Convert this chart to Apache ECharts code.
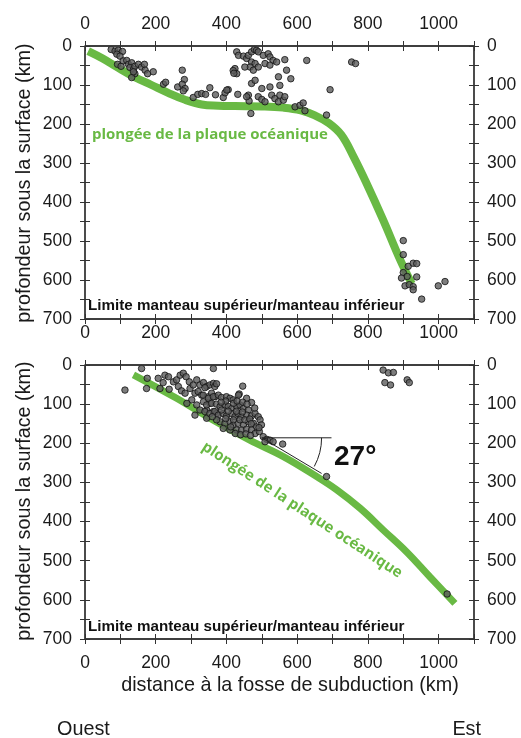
<!DOCTYPE html>
<html>
<head>
<meta charset="utf-8">
<script src="https://cdn.jsdelivr.net/npm/echarts@6/dist/echarts.min.js"></script>
<style>html,body{margin:0;padding:0;background:#fff}#c{width:521px;height:738px}</style>
</head>
<body>
<div id="c"></div>
<script>
// ---- data ----
const xTickLabels = [0, 200, 400, 600, 800, 1000];
const yTickLabels = [0, 100, 200, 300, 400, 500, 600, 700];
const xExtent = [0, 1100];
const yExtent = [0, 700];

const slabTop = [[9,13],[50,32],[94,56],[141,80],[188,100],[235,120],[283,138],[330,150],[377,153],[424,154],[500,155],[560,158],[610,165],[650,178],[690,198],[725,228],[760,285],[796,352],[843,446],[891,548],[924,610]];

const quakesTop = [[74,9],[85,13],[94,11],[106,14],[90,21],[99,26],[92,47],[102,52],[108,38],[118,37],[123,47],[132,43],[127,55],[137,60],[141,52],[151,47],[160,54],[168,47],[170,62],[177,71],[141,71],[132,81],[137,66],[193,66],[222,98],[228,93],[275,62],[281,86],[262,105],[275,98],[283,109],[278,115],[306,132],[319,124],[330,122],[341,124],[353,107],[369,125],[391,132],[396,120],[405,112],
[429,15],[434,24],[424,58],[429,71],[448,26],[457,32],[462,24],[471,15],[479,9],[485,11],[490,15],[471,41],[481,45],[467,54],[476,62],[490,54],[452,54],[504,24],[518,20],[523,28],[532,37],[542,41],[509,45],[523,49],[565,35],[570,62],[547,79],[582,84],[627,37],[754,41],[765,45],[471,96],[481,88],[500,109],[523,105],[551,101],[401,113],[432,124],[462,126],[464,141],[490,130],[500,137],[509,143],[528,126],[537,135],[547,143],[551,126],[561,139],[565,130],[594,156],[608,152],[617,146],[622,166],[469,173],[693,112],[683,177],[419,63],[421,70],[457,130],
[900,499],[900,535],[914,565],[928,557],[938,558],[900,581],[911,591],[905,615],[917,612],[928,617],[938,592],[928,625],[952,649],[999,615],[1018,604],[895,595]];

const slabBottom = [[137,25],[259,85],[353,136],[466,192],[561,234],[655,285],[712,319],[778,366],[844,422],[909,477],[975,541],[1046,609]];

const quakesBottom = [[160,9],[113,64],[176,34],[174,60],[207,34],[212,60],[226,26],[236,30],[221,45],[238,62],[250,43],[259,38],[269,26],[278,21],[286,30],[295,43],[264,55],[273,66],[283,72],[297,60],[306,51],[316,38],[325,51],[335,45],[344,55],[353,51],[363,47],[311,72],[320,68],[330,77],[302,89],[288,98],[316,102],[335,94],[349,81],[358,72],[368,81],[353,98],[325,115],[344,115],[363,119],[311,128],[344,136],[372,124],[363,9],
[339,58],[367,55],[372,48],[446,54],[436,74],[457,85],[471,96],[334,77],[349,85],[363,81],[377,77],[386,83],[400,81],[410,85],[419,89],[344,102],[358,98],[372,100],[382,106],[396,102],[405,106],[415,111],[429,106],[438,102],[448,111],[462,115],[339,119],[353,124],[367,119],[377,128],[391,124],[400,130],[415,124],[424,132],[433,124],[443,132],[457,128],[471,130],[481,124],[490,132],[495,140],[382,145],[396,149],[410,145],[419,153],[433,149],[448,153],[462,145],[476,149],[485,158],[499,153],[391,162],[410,166],[429,166],[443,166],[457,164],[471,166],[481,175],[493,170],[504,183],[514,190],[523,192],[532,196],[559,202],[509,196],[434,77],[683,285],[1024,585],
[405,118],[420,140],[438,140],[452,140],[398,137],[428,118],[445,120],[466,138],[412,158],[425,175],[440,178],[455,176],[468,180],[386,115],[398,92],[385,95],[420,98],[430,92],[446,95],[458,100],[480,110],[470,150],[492,160],[372,140],[360,132],
[843,13],[858,20],[872,19],[848,45],[864,51],[911,38],[917,45]];

const angleHoriz = [[500,186],[697,186]];
const angleSlant = [[500,186],[669,277]];
const angleArcRadiusKm = 169;

// ---- chart ----
const GREEN = '#69b944';
const AX = '#333';
const TXT = '#1a1a1a';
const FONT = 'Liberation Sans';

function xFmt(v){ return xTickLabels.indexOf(v) >= 0 ? String(v) : ''; }
function yFmt(v){ return yTickLabels.indexOf(v) >= 0 ? String(v) : ''; }

function xAx(grid, pos, showLabel, margin, inside){
  return {type:'value', gridIndex:grid, position:pos, min:xExtent[0], max:xExtent[1], interval:100,
    axisLine:{show:false, onZero:false},
    axisTick:{show:true, inside:!!inside, length:5, lineStyle:{color:AX}},
    axisLabel:{show:showLabel && !inside, margin:margin, formatter:xFmt, fontFamily:FONT, fontSize:17.5, color:TXT},
    splitLine:{show:false}};
}
function yAx(grid, pos, inside){
  return {type:'value', gridIndex:grid, position:pos, inverse:true, min:yExtent[0], max:yExtent[1], interval:50,
    axisLine:{show:false, onZero:false},
    axisTick:{show:true, inside:!!inside, length:5, lineStyle:{color:AX}},
    axisLabel:{show:!inside, margin:13, formatter:yFmt, fontFamily:FONT, fontSize:17.5, color:TXT},
    splitLine:{show:false}};
}
const frameData = [[xExtent[0],yExtent[0]],[xExtent[1],yExtent[0]],[xExtent[1],yExtent[1]],[xExtent[0],yExtent[1]],[xExtent[0],yExtent[0]]];
function frameSeries(xi, yi){
  return {type:'line', xAxisIndex:xi, yAxisIndex:yi, data:frameData, clip:false, showSymbol:false, symbol:'none',
    lineStyle:{color:AX, width:1.3}, z:10, silent:true};
}

const chart = echarts.init(document.getElementById('c'), null, {renderer:'canvas'});
const pointStyle = {color:'#5c5c5c', borderColor:'#111', borderWidth:1};

chart.setOption({
  animation:false,
  backgroundColor:'#fff',
  grid:[{left:85, right:47, top:46, height:273},
        {left:85, right:47, top:365, height:274}],
  xAxis:[xAx(0,'bottom',true,5), xAx(0,'top',true,13), xAx(1,'bottom',true,15), xAx(1,'top',false,8),
         xAx(0,'bottom',false,0,true), xAx(0,'top',false,0,true), xAx(1,'bottom',false,0,true), xAx(1,'top',false,0,true)],
  yAxis:[yAx(0,'left'), yAx(0,'right'), yAx(1,'left'), yAx(1,'right'),
         yAx(0,'left',true), yAx(0,'right',true), yAx(1,'left',true), yAx(1,'right',true)],
  series:[
    frameSeries(0,0), frameSeries(2,2),
    {type:'line', xAxisIndex:0, yAxisIndex:0, data:slabTop, smooth:0.4, showSymbol:false, symbol:'none',
     lineStyle:{color:GREEN, width:8}, z:2},
    {type:'scatter', xAxisIndex:0, yAxisIndex:0, data:quakesTop, symbolSize:6.5, itemStyle:pointStyle, z:3},
    {type:'line', xAxisIndex:2, yAxisIndex:2, data:slabBottom, smooth:0.4, showSymbol:false, symbol:'none',
     lineStyle:{color:GREEN, width:7}, z:2},
    {type:'scatter', xAxisIndex:2, yAxisIndex:2, data:quakesBottom, symbolSize:6.5, itemStyle:pointStyle, z:3},
    {type:'line', xAxisIndex:2, yAxisIndex:2, data:angleHoriz, showSymbol:false, symbol:'none', lineStyle:{color:'#222', width:1}, z:4},
    {type:'line', xAxisIndex:2, yAxisIndex:2, data:angleSlant, showSymbol:false, symbol:'none', lineStyle:{color:'#222', width:1}, z:4}
  ]
});

function frameRect(id, xi, yi){
  const a = chart.convertToPixel({xAxisIndex:xi, yAxisIndex:yi}, [xExtent[0], yExtent[0]]);
  const b = chart.convertToPixel({xAxisIndex:xi, yAxisIndex:yi}, [xExtent[1], yExtent[1]]);
  return {type:'rect', id:id, z:100, silent:true,
    shape:{x:Math.min(a[0],b[0]), y:Math.min(a[1],b[1]), width:Math.abs(b[0]-a[0]), height:Math.abs(b[1]-a[1])},
    style:{stroke:AX, lineWidth:1.3, fill:null}};
}
const v = chart.convertToPixel({xAxisIndex:2, yAxisIndex:2}, angleHoriz[0]);
const e = chart.convertToPixel({xAxisIndex:2, yAxisIndex:2}, [angleHoriz[0][0] + angleArcRadiusKm, angleHoriz[0][1]]);
const r = e[0] - v[0];

const TITLE = '19.8px "Liberation Sans"';
chart.setOption({
  graphic:[
    frameRect('f0', 0, 0), frameRect('f1', 2, 2),
    {type:'text', id:'t1', left:92, top:127, style:{text:'plongée de la plaque océanique', font:'bold 15px "Open Sans"', fill:GREEN}},
    {type:'text', id:'t2', left:88, top:298, style:{text:'Limite manteau supérieur/manteau inférieur', font:'bold 15.2px "Liberation Sans"', fill:'#111'}},
    {type:'text', id:'t3', left:88, top:619, style:{text:'Limite manteau supérieur/manteau inférieur', font:'bold 15.2px "Liberation Sans"', fill:'#111'}},
    {type:'text', id:'t4', x:302, y:510, rotation:-0.58, style:{text:'plongée de la plaque océanique', font:'bold 15px "Open Sans"', fill:GREEN, align:'center', verticalAlign:'middle'}},
    {type:'text', id:'t5', left:334, top:443, style:{text:'27°', font:'bold 28px "Liberation Sans"', fill:'#111'}},
    {type:'text', id:'yt1', x:25, y:183, rotation:Math.PI/2, style:{text:'profondeur sous la surface (km)', font:TITLE, fill:TXT, align:'center', verticalAlign:'middle'}},
    {type:'text', id:'yt2', x:25, y:501, rotation:Math.PI/2, style:{text:'profondeur sous la surface (km)', font:TITLE, fill:TXT, align:'center', verticalAlign:'middle'}},
    {type:'text', id:'xt', x:290, y:686, style:{text:'distance à la fosse de subduction (km)', font:TITLE, fill:TXT, align:'center', verticalAlign:'middle'}},
    {type:'text', id:'w', x:57, y:730, style:{text:'Ouest', font:TITLE, fill:TXT, align:'left', verticalAlign:'middle'}},
    {type:'text', id:'est', x:481, y:730, style:{text:'Est', font:TITLE, fill:TXT, align:'right', verticalAlign:'middle'}},
    {type:'arc', id:'arc', shape:{cx:v[0], cy:v[1], r:r, startAngle:0, endAngle:0.5, clockwise:true}, style:{stroke:'#222', lineWidth:1, fill:null}}
  ]
});
</script>
</body>
</html>
